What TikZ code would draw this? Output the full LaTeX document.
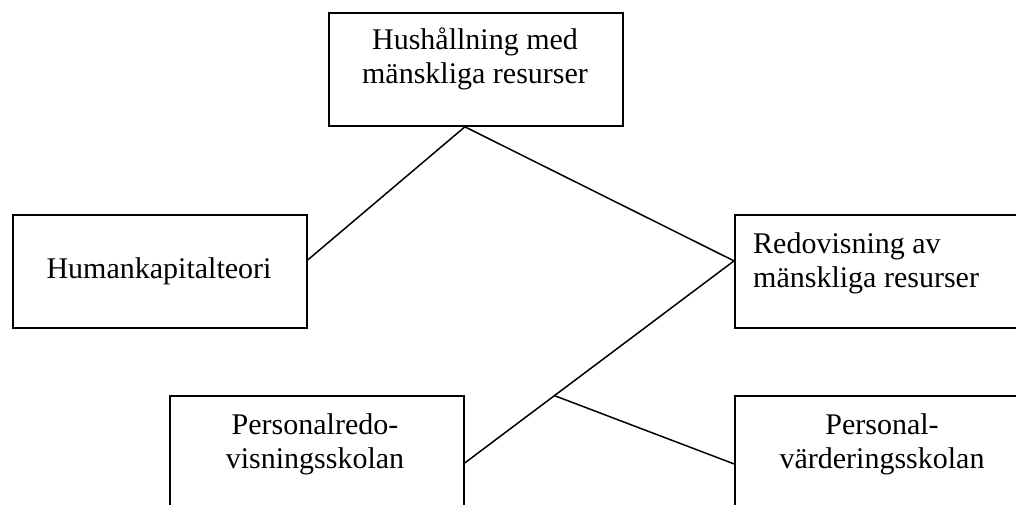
\documentclass[tikz,border=0pt]{standalone}
\usepackage{fontspec}
\setmainfont{Liberation Serif}
\usetikzlibrary{calc}
\begin{document}
\begin{tikzpicture}[x=1pt,y=-1pt,
  box/.style={draw=black,line width=1.8pt,rectangle,inner sep=0pt,minimum width=294pt,minimum height=113pt,anchor=north west},
  txt/.style={inner sep=0pt,font=\fontsize{30}{34}\selectfont},
  conn/.style={draw=black,line width=1.5pt}]
\useasboundingbox (0,0) rectangle (1016,505);
\clip (0,0) rectangle (1016,505);
\node[box] (top) at (328,12) {};
\node[box] (hk) at (12,214) {};
\node[box] (rd) at (734,214) {};
\node[box] (pr) at (169,395) {};
\node[box] (pv) at (734,395) {};
\node[txt,align=center,anchor=base] (ttop) at (475,84) {Hushållning med\\mänskliga resurser};
\node[txt,anchor=base] (thk) at (159,278) {Humankapitalteori};
\node[txt,align=left,anchor=base west] (trd) at (753,287) {Redovisning av\\mänskliga resurser};
\node[txt,align=center,anchor=base] (tpr) at (315,468) {Personalredo-\\visningsskolan};
\node[txt,align=center,anchor=base] (tpv) at (882,468) {Personal-\\värderingsskolan};
\coordinate (j1) at ([xshift=-11pt]top.south);
\coordinate (hkj) at ([yshift=11.5pt]hk.east);
\coordinate (rdj) at ([yshift=10.5pt]rd.west);
\coordinate (prj) at ([yshift=-10.5pt]pr.east);
\coordinate (pvj) at ([yshift=-11.5pt]pv.west);
\coordinate (j2) at ($(rdj)!0.667!(prj)$);
\draw[conn] (j1) -- (hkj);
\draw[conn] (j1) -- (rdj);
\draw[conn] (rdj) -- (prj);
\draw[conn] (j2) -- (pvj);
\end{tikzpicture}
\end{document}
